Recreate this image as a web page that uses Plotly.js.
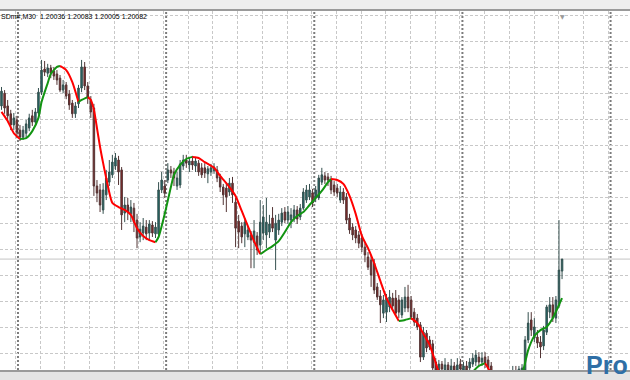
<!DOCTYPE html>
<html>
<head>
<meta charset="utf-8">
<script src="https://cdn.plot.ly/plotly-3.0.1.min.js"></script>
<style>html,body{margin:0;padding:0;background:#fff;}#chart{width:630px;height:380px;}</style>
</head>
<body>
<div id="chart"></div>
<script>
// ---- data (EURUSD M30) ----
const symbolLabel = "SDm#,M30";
const lastQuote = {open: 1.20036, high: 1.20083, low: 1.20005, close: 1.20082};

const open = [
1.20671,1.20720,1.20671,1.20641,1.20598,1.20617,1.20578,1.20551,1.20566,1.20586,
1.20633,1.20609,1.20644,1.20724,1.20813,1.20797,1.20817,1.20805,1.20794,1.20778,
1.20732,1.20752,1.20717,1.20682,1.20641,1.20679,1.20740,1.20821,1.20748,1.20694,
1.20663,1.20363,1.20348,1.20271,1.20329,1.20378,1.20406,1.20440,1.20463,1.20425,
1.20259,1.20290,1.20256,1.20278,1.20232,1.20167,1.20182,1.20205,1.20182,1.20213,
1.20179,1.20179,1.20348,1.20363,1.20386,1.20425,1.20417,1.20363,1.20367,1.20440,
1.20463,1.20444,1.20459,1.20440,1.20451,1.20433,1.20433,1.20410,1.20417,1.20421,
1.20425,1.20398,1.20359,1.20355,1.20340,1.20374,1.20301,1.20228,1.20209,1.20179,
1.20167,1.20175,1.20147,1.20171,1.20136,1.20182,1.20175,1.20186,1.20240,1.20155,
1.20194,1.20224,1.20263,1.20232,1.20232,1.20240,1.20271,1.20244,1.20278,1.20309,
1.20321,1.20336,1.20317,1.20317,1.20378,1.20402,1.20398,1.20386,1.20367,1.20355,
1.20309,1.20340,1.20321,1.20240,1.20205,1.20194,1.20175,1.20163,1.20128,1.20090,
1.20078,1.20066,1.19975,1.19940,1.19874,1.19878,1.19898,1.19932,1.19932,1.19925,
1.19867,1.19894,1.19936,1.19925,1.19878,1.19855,1.19829,1.19705,1.19797,1.19771,
1.19756,1.19686,1.19655,1.19678,1.19655,1.19675,1.19655,1.19671,1.19655,1.19678,
1.19655,1.19671,1.19663,1.19678,1.19686,1.19705,1.19686,1.19705,1.19694,1.19671,
1.19640,1.19617,1.19578,1.19598,1.19617,1.19601,1.19628,1.19651,1.19640,1.19648,
1.19655,1.19771,1.19848,1.19778,1.19782,1.19763,1.19748,1.19801,1.19878,1.19906,
1.19855,1.19902,1.20036];

const high = [
1.20744,1.20732,1.20694,1.20656,1.20644,1.20633,1.20598,1.20594,1.20617,1.20641,
1.20656,1.20663,1.20740,1.20848,1.20844,1.20833,1.20829,1.20821,1.20809,1.20790,
1.20771,1.20763,1.20732,1.20694,1.20686,1.20752,1.20848,1.20840,1.20763,1.20709,
1.20679,1.20386,1.20371,1.20374,1.20425,1.20463,1.20483,1.20490,1.20479,1.20436,
1.20321,1.20317,1.20309,1.20298,1.20256,1.20224,1.20240,1.20232,1.20232,1.20228,
1.20224,1.20378,1.20417,1.20386,1.20451,1.20440,1.20433,1.20417,1.20463,1.20483,
1.20483,1.20475,1.20479,1.20475,1.20463,1.20451,1.20451,1.20440,1.20448,1.20451,
1.20440,1.20410,1.20371,1.20374,1.20394,1.20398,1.20317,1.20252,1.20224,1.20240,
1.20209,1.20190,1.20232,1.20186,1.20309,1.20290,1.20317,1.20252,1.20282,1.20252,
1.20256,1.20278,1.20282,1.20286,1.20278,1.20290,1.20286,1.20294,1.20355,1.20367,
1.20371,1.20352,1.20363,1.20406,1.20433,1.20417,1.20413,1.20402,1.20382,1.20371,
1.20363,1.20355,1.20336,1.20256,1.20220,1.20209,1.20190,1.20179,1.20143,1.20109,
1.20094,1.20082,1.19990,1.19963,1.19944,1.19948,1.19963,1.19952,1.19963,1.19944,
1.19936,1.19975,1.19983,1.19940,1.19894,1.19871,1.19840,1.19821,1.19809,1.19786,
1.19771,1.19701,1.19694,1.19690,1.19701,1.19686,1.19698,1.19686,1.19701,1.19698,
1.19686,1.19690,1.19701,1.19720,1.19732,1.19724,1.19724,1.19724,1.19709,1.19686,
1.19648,1.19632,1.19624,1.19632,1.19632,1.19640,1.19671,1.19671,1.19671,1.19678,
1.19786,1.19878,1.19878,1.19855,1.19809,1.19786,1.19825,1.19906,1.19936,1.19936,
1.19940,1.20232,1.20083];

const low = [
1.20656,1.20641,1.20609,1.20578,1.20578,1.20547,1.20536,1.20540,1.20551,1.20574,
1.20594,1.20602,1.20637,1.20713,1.20786,1.20782,1.20778,1.20771,1.20752,1.20724,
1.20720,1.20697,1.20656,1.20625,1.20625,1.20663,1.20724,1.20732,1.20679,1.20625,
1.20325,1.20301,1.20263,1.20256,1.20309,1.20363,1.20394,1.20425,1.20367,1.20194,
1.20224,1.20232,1.20224,1.20186,1.20124,1.20147,1.20155,1.20155,1.20155,1.20167,
1.20163,1.20167,1.20336,1.20317,1.20374,1.20394,1.20363,1.20348,1.20355,1.20425,
1.20433,1.20417,1.20425,1.20417,1.20402,1.20394,1.20394,1.20374,1.20402,1.20410,
1.20378,1.20340,1.20290,1.20263,1.20325,1.20298,1.20128,1.20124,1.20143,1.20128,
1.20155,1.20047,1.20047,1.20098,1.20105,1.20155,1.20124,1.20163,1.20186,1.20040,
1.20175,1.20209,1.20220,1.20217,1.20201,1.20224,1.20217,1.20232,1.20271,1.20298,
1.20309,1.20282,1.20301,1.20309,1.20367,1.20371,1.20363,1.20332,1.20325,1.20321,
1.20298,1.20294,1.20217,1.20179,1.20155,1.20143,1.20124,1.20109,1.20070,1.20040,
1.19975,1.19948,1.19925,1.19836,1.19855,1.19840,1.19878,1.19886,1.19863,1.19855,
1.19855,1.19878,1.19878,1.19848,1.19825,1.19809,1.19686,1.19694,1.19724,1.19732,
1.19636,1.19624,1.19632,1.19636,1.19632,1.19632,1.19636,1.19628,1.19636,1.19636,
1.19632,1.19636,1.19648,1.19667,1.19671,1.19671,1.19671,1.19663,1.19648,1.19617,
1.19586,1.19563,1.19563,1.19578,1.19578,1.19586,1.19613,1.19624,1.19624,1.19632,
1.19648,1.19759,1.19786,1.19763,1.19740,1.19701,1.19732,1.19790,1.19855,1.19840,
1.19836,1.19894,1.20005];

const close = [
1.20728,1.20663,1.20633,1.20598,1.20625,1.20570,1.20551,1.20578,1.20602,1.20625,
1.20609,1.20648,1.20724,1.20809,1.20801,1.20817,1.20797,1.20786,1.20771,1.20732,
1.20752,1.20709,1.20675,1.20641,1.20671,1.20740,1.20821,1.20748,1.20705,1.20648,
1.20363,1.20336,1.20290,1.20348,1.20394,1.20417,1.20455,1.20471,1.20417,1.20252,
1.20290,1.20263,1.20282,1.20224,1.20163,1.20197,1.20209,1.20179,1.20217,1.20182,
1.20205,1.20348,1.20386,1.20336,1.20425,1.20413,1.20394,1.20394,1.20448,1.20463,
1.20451,1.20459,1.20444,1.20459,1.20417,1.20406,1.20413,1.20429,1.20433,1.20436,
1.20394,1.20359,1.20329,1.20321,1.20374,1.20329,1.20201,1.20186,1.20167,1.20224,
1.20194,1.20155,1.20190,1.20117,1.20224,1.20244,1.20224,1.20217,1.20201,1.20220,
1.20232,1.20259,1.20232,1.20263,1.20252,1.20271,1.20236,1.20278,1.20340,1.20348,
1.20348,1.20298,1.20348,1.20394,1.20406,1.20386,1.20386,1.20348,1.20340,1.20336,
1.20340,1.20309,1.20232,1.20194,1.20175,1.20163,1.20143,1.20128,1.20098,1.20051,
1.20021,1.19963,1.19936,1.19906,1.19925,1.19932,1.19936,1.19902,1.19874,1.19878,
1.19925,1.19936,1.19894,1.19859,1.19840,1.19821,1.19705,1.19801,1.19740,1.19744,
1.19663,1.19655,1.19678,1.19659,1.19675,1.19655,1.19671,1.19651,1.19675,1.19659,
1.19671,1.19655,1.19686,1.19701,1.19713,1.19686,1.19701,1.19682,1.19663,1.19640,
1.19609,1.19586,1.19601,1.19617,1.19598,1.19628,1.19651,1.19640,1.19659,1.19663,
1.19771,1.19836,1.19809,1.19821,1.19759,1.19744,1.19809,1.19898,1.19906,1.19855,
1.19925,1.20040,1.20082];

// moving-average line (bar index, value)
const maBar = [0,2,4,6,8,10,12,13,15,16,18,19,21,23,25,26,28,29,30,31,32,33,34,36,38,40,42,44,46,48,50,51,53,55,56,58,60,62,64,66,69,71,74,76,78,80,82,84,86,88,90,92,94,96,98,100,102,104,106,107,109,111,113,115,117,119,121,123,125,127,129,131,133,135,137,139,141,143,146,149,151,153,155,157,159,161,163,165,167,169,171,173,175,177,179,181,182];
const maValue = [1.20648,1.20613,1.20566,1.20544,1.20547,1.20574,1.20625,1.20686,1.20759,1.20794,1.20821,1.20825,1.20809,1.20763,1.20686,1.20694,1.20705,1.20694,1.20656,1.20586,1.20513,1.20451,1.20394,1.20298,1.20282,1.20271,1.20252,1.20201,1.20171,1.20155,1.20147,1.20167,1.20256,1.20359,1.20406,1.20444,1.20467,1.20475,1.20471,1.20455,1.20433,1.20402,1.20359,1.20325,1.20267,1.20209,1.20151,1.20101,1.20117,1.20132,1.20151,1.20186,1.20224,1.20248,1.20263,1.20290,1.20317,1.20344,1.20378,1.20390,1.20386,1.20371,1.20325,1.20256,1.20171,1.20124,1.20066,1.19998,1.19932,1.19886,1.19844,1.19848,1.19855,1.19836,1.19794,1.19752,1.19682,1.19617,1.19578,1.19594,1.19617,1.19648,1.19671,1.19682,1.19644,1.19617,1.19578,1.19563,1.19586,1.19636,1.19732,1.19786,1.19809,1.19821,1.19855,1.19906,1.19932];

// ---- build traces ----
const bars = open.map((_, i) => i);
const traces = [{
  type: 'candlestick', x: bars, open: open, high: high, low: low, close: close,
  increasing: {line: {color: '#35504f', width: 1}, fillcolor: '#1f6a68'},
  decreasing: {line: {color: '#523434', width: 1}, fillcolor: '#8a2424'},
  whiskerwidth: 0, hoverinfo: 'skip', showlegend: false
}];

const UP = '#129412', DOWN = '#ff0000';
let runColor = null, runX = [], runY = [];
function flush() {
  if (runX.length > 1) traces.push({type: 'scatter', mode: 'lines', x: runX, y: runY,
    line: {color: runColor, width: 2, shape: 'spline', smoothing: 0.6}, hoverinfo: 'skip', showlegend: false});
}
for (let k = 0; k < maBar.length - 1; k++) {
  let c = maValue[k + 1] > maValue[k] ? UP : (maValue[k + 1] < maValue[k] ? DOWN : (runColor || DOWN));
  if (c !== runColor) {
    flush();
    runColor = c; runX = [maBar[k]]; runY = [maValue[k]];
  }
  runX.push(maBar[k + 1]); runY.push(maValue[k + 1]);
}
flush();

// ---- layout ----
const W = 630, H = 380, T = 11, B = 10;
const plotH = H - T - B;
const py = Y => (H - B - Y) / plotH;  // pixel row -> paper y
const gridStyle = {showgrid: true, gridcolor: '#c8c8c8', gridwidth: 1, griddash: '3px,2px',
  zeroline: false, showline: false, showticklabels: false, ticks: '', fixedrange: true};

const separators = [5.35, 53.45, 101.55, 149.65, 197.75];
const shapes = separators.map(x => ({type: 'line', xref: 'x', yref: 'paper', x0: x, x1: x, y0: 0, y1: 1,
  line: {color: '#7c7c7c', width: 2, dash: '2px,2px'}, layer: 'below'}));
shapes.push({type: 'line', xref: 'paper', yref: 'y', x0: 0, x1: 1, y0: lastQuote.close, y1: lastQuote.close,
  line: {color: '#c4c4c4', width: 1}, layer: 'below'});
shapes.push({type: 'rect', xref: 'paper', yref: 'paper', x0: 0, x1: 1, y0: py(10), y1: py(0),
  fillcolor: '#eeeeee', line: {width: 0}});
shapes.push({type: 'line', xref: 'paper', yref: 'paper', x0: 0, x1: 1, y0: py(10), y1: py(10),
  line: {color: '#9a9a9a', width: 2}});
shapes.push({type: 'rect', xref: 'paper', yref: 'paper', x0: 0, x1: 1, y0: py(380), y1: py(371),
  fillcolor: '#e4e4e4', line: {width: 0}});
shapes.push({type: 'line', xref: 'paper', yref: 'paper', x0: 0, x1: 1, y0: py(371), y1: py(371),
  line: {color: '#9a9a9a', width: 2}});

const fmt = v => v.toFixed(5);
const infoText = symbolLabel + '\u00a0\u00a0' + [lastQuote.open, lastQuote.high, lastQuote.low, lastQuote.close].map(fmt).join('\u00a0');

const annotations = [
  {xref: 'paper', yref: 'paper', x: -0.0016, y: py(17), xanchor: 'left', yanchor: 'middle',
   text: infoText, showarrow: false, font: {family: 'Liberation Sans, Arial, sans-serif', size: 7, color: '#000'}},
  {xref: 'x', yref: 'paper', x: open.length - 1, y: py(10.5), xanchor: 'center', yanchor: 'top',
   text: '\u25BC', showarrow: false, font: {family: 'DejaVu Sans', size: 6, color: '#9a9a9a'}},
  {xref: 'paper', yref: 'paper', x: 1, y: py(381), xanchor: 'right', yanchor: 'bottom',
   text: '<b>Pro</b>', showarrow: false, font: {family: 'Liberation Sans, Arial, sans-serif', size: 25, color: '#2f6fa6'}}
];

const layout = {
  width: W, height: H, margin: {l: 0, r: 0, t: T, b: B, pad: 0},
  paper_bgcolor: '#ffffff', plot_bgcolor: '#ffffff', showlegend: false, hovermode: false,
  xaxis: Object.assign({}, gridStyle, {range: [-0.487, 204.06], tick0: 12.5, dtick: 8.02,
    rangeslider: {visible: false}, type: 'linear'}),
  yaxis: Object.assign({}, gridStyle, {range: [1.196554, 1.210362], tick0: 1.2002, dtick: 0.001}),
  shapes: shapes, annotations: annotations
};

Plotly.newPlot('chart', traces, layout, {staticPlot: true, displayModeBar: false});
</script>
</body>
</html>
